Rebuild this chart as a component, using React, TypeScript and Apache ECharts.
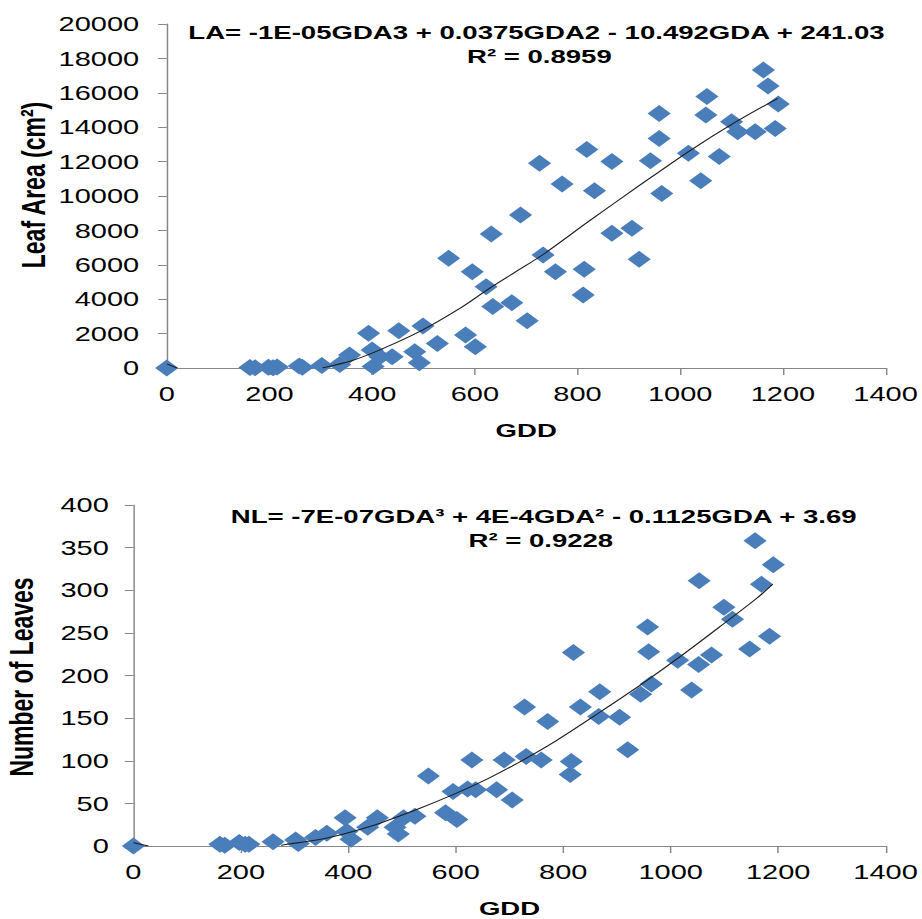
import React, { useEffect, useRef } from "react";
import * as echarts from "echarts";

// ---- data ----
const xTicks = [0, 200, 400, 600, 800, 1000, 1200, 1400];

const laPoints: [number, number][] = [
  [0, 0],
  [162, 30], [172, 20], [198, 40], [207, 10], [215, 60], [258, 120], [264, 40], [302, 150], [337, 200],
  [356, 760], [393, 2020], [400, 1050], [402, 80], [415, 660], [439, 660], [452, 2170], [483, 950],
  [492, 310], [499, 2440], [527, 1430], [549, 6380], [582, 1920], [595, 5600], [601, 1240], [622, 4730],
  [632, 7790], [635, 3570], [672, 3800], [702, 2750], [689, 8900], [726, 11900], [733, 6570], [757, 5600],
  [770, 10700], [811, 4240], [813, 5740], [818, 12710], [833, 10310], [867, 7830], [867, 12000],
  [906, 8120], [920, 6320], [942, 12050], [959, 13350], [959, 14800], [964, 10150], [1016, 12480],
  [1040, 10890], [1050, 14710], [1052, 15780], [1076, 12290], [1100, 14320], [1112, 13740],
  [1146, 13740], [1162, 17330], [1171, 16400], [1185, 13930], [1191, 15350],
];

const laTrendStub: [number, number][] = [[0, 240], [20, 0]];
const laTrend: [number, number][] = [
  [303, 0], [360, 420], [415, 1050], [492, 2110], [570, 3450], [622, 4500], [680, 5600], [733, 6600],
  [823, 8550], [920, 10600], [1017, 12600], [1105, 14250], [1190, 15680],
];

const nlPoints: [number, number][] = [
  [0, 0], [161, 2], [170, 1], [197, 4], [208, 2], [215, 2], [260, 5], [302, 7], [307, 3], [339, 10],
  [360, 15], [394, 33], [397, 17], [405, 8], [436, 22], [454, 33], [487, 22], [493, 14], [503, 33],
  [524, 35], [549, 82], [581, 39], [595, 64], [602, 31], [622, 67], [630, 101], [637, 66], [676, 66],
  [690, 101], [705, 54], [728, 163], [731, 105], [759, 101], [771, 146], [813, 84], [815, 99],
  [819, 227], [832, 163], [866, 152], [868, 181], [905, 151], [920, 113], [944, 178], [957, 257],
  [959, 228], [964, 190], [1013, 218], [1039, 183], [1052, 213], [1053, 311], [1076, 224], [1099, 280],
  [1115, 266], [1147, 231], [1157, 358], [1169, 307], [1184, 246], [1191, 330],
];

const nlTrendStub: [number, number][] = [[0, 3.7], [28, 0]];
const nlTrend: [number, number][] = [
  [275, 1], [358, 9], [446, 24], [524, 42], [594, 60], [660, 79], [720, 99], [788, 124], [866, 156],
  [944, 189], [1013, 220], [1091, 257], [1159, 290], [1190, 307],
];

const topTitle = ["LA= -1E-05GDA3 + 0.0375GDA2 - 10.492GDA + 241.03", "R² = 0.8959"];
const bottomTitle = ["NL= -7E-07GDA³ + 4E-4GDA² - 0.1125GDA + 3.69", "R² = 0.9228"];

const STRETCH = 1.45;
const INNER_W = 636;
const H = 919;

const FONT = "'Liberation Sans', Arial, sans-serif";
const AXIS_GREY = "#868686";
const MARKER = "#4a7ebb";

function xAxisCfg(gridIndex: number) {
  return {
    type: "value",
    gridIndex,
    min: 0,
    max: 1400,
    interval: 200,
    name: "GDD",
    nameLocation: "middle",
    nameGap: 53,
    nameTextStyle: { fontFamily: FONT, fontSize: 19, fontWeight: "bold", color: "#000" },
    axisLine: { show: true, onZero: false, lineStyle: { color: AXIS_GREY, width: 1 } },
    axisTick: { show: true, length: 7, lineStyle: { color: AXIS_GREY } },
    splitLine: { show: false },
    axisLabel: {
      margin: 16,
      fontFamily: FONT,
      fontSize: 20,
      color: "#000",
      formatter: (v: number) => (xTicks.includes(v) ? String(v) : ""),
    },
  };
}

function yAxisCfg(gridIndex: number, max: number, interval: number, margin: number) {
  return {
    type: "value",
    gridIndex,
    min: 0,
    max,
    interval,
    axisLine: { show: true, onZero: false, lineStyle: { color: AXIS_GREY, width: 1 } },
    axisTick: { show: true, length: 6, lineStyle: { color: AXIS_GREY } },
    splitLine: { show: false },
    axisLabel: {
      margin,
      fontFamily: FONT,
      fontSize: 20,
      color: "#000",
      formatter: (v: number) => String(Math.round(v)),
    },
  };
}

function scatter(idx: number, data: [number, number][]) {
  return {
    type: "scatter",
    xAxisIndex: idx,
    yAxisIndex: idx,
    data,
    symbol: "diamond",
    symbolSize: [16, 17],
    itemStyle: { color: MARKER, opacity: 1 },
    silent: true,
    z: 2,
  };
}

function trend(idx: number, data: [number, number][]) {
  return {
    type: "line",
    xAxisIndex: idx,
    yAxisIndex: idx,
    data,
    smooth: 0.3,
    showSymbol: false,
    symbol: "none",
    lineStyle: { color: "#1f1f1f", width: 1 },
    silent: true,
    z: 3,
  };
}

function titleText(x: number, y: number, text: string) {
  return {
    type: "text",
    x,
    y,
    style: {
      text,
      fontFamily: FONT,
      fontSize: 19,
      fontWeight: "bold",
      fill: "#000",
      textAlign: "center",
      textVerticalAlign: "middle",
    },
    silent: true,
  };
}

function yName(x: number, y: number, text: string) {
  return {
    type: "text",
    x,
    y,
    rotation: Math.PI / 2,
    style: {
      text,
      fontFamily: FONT,
      fontSize: 23,
      fontWeight: "bold",
      fill: "#000",
      textAlign: "center",
      textVerticalAlign: "middle",
    },
    silent: true,
  };
}

export default function App() {
  const ref = useRef<HTMLDivElement>(null);
  useEffect(() => {
    if (!ref.current) return;
    const chart = echarts.init(ref.current, undefined, { renderer: "svg" });
    chart.setOption({
      animation: false,
      backgroundColor: "#ffffff",
      grid: [
        { left: 115, top: 24, width: 496.5, height: 344, containLabel: false },
        { left: 92, top: 505, width: 519.6, height: 343, containLabel: false },
      ],
      xAxis: [xAxisCfg(0), xAxisCfg(1)],
      yAxis: [yAxisCfg(0, 20000, 2000, 19), yAxisCfg(1, 400, 50, 17)],
      series: [
        scatter(0, laPoints),
        trend(0, laTrendStub),
        trend(0, laTrend),
        scatter(1, nlPoints),
        trend(1, nlTrendStub),
        trend(1, nlTrend),
      ],
      graphic: [
        titleText(370, 32.5, topTitle[0]),
        titleText(372, 57, topTitle[1]),
        titleText(375, 516.5, bottomTitle[0]),
        titleText(373, 540.5, bottomTitle[1]),
        yName(22.8, 185, "Leaf Area (cm²)"),
        yName(14.8, 677, "Number of Leaves"),
      ],
    });
    return () => chart.dispose();
  }, []);
  return (
    <div
      style={{
        position: "absolute",
        left: 0,
        top: 0,
        width: 922,
        height: H,
        overflow: "hidden",
        background: "#fff",
      }}
    >
      <div
        ref={ref}
        style={{
          width: INNER_W,
          height: H,
          transform: `scaleX(${STRETCH})`,
          transformOrigin: "0 0",
        }}
      />
    </div>
  );
}
